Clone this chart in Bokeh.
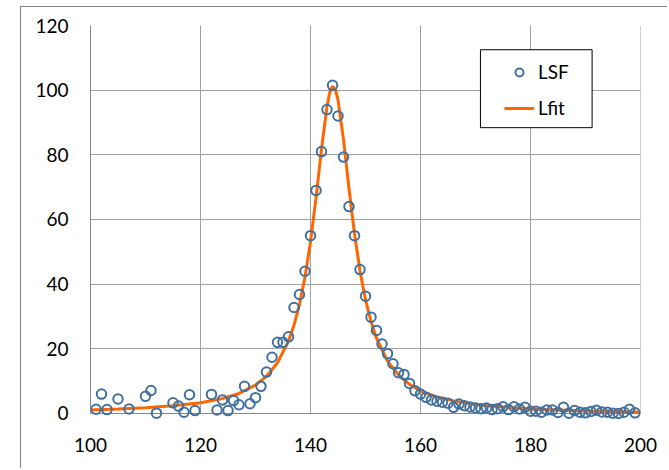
from bokeh.plotting import figure
from bokeh.models import (Range1d, Span, BoxAnnotation, Legend, LegendItem,
                          FixedTicker, InlineStyleSheet)
from bokeh.embed import file_html
from bokeh.resources import INLINE

# measured LSF points
lsf_x = [101, 102, 103, 105, 107, 110, 111, 112, 115, 116, 117, 118, 119,
         122, 123, 124, 125, 126, 127, 128, 129, 130, 131, 132, 133, 134,
         135, 136, 137, 138, 139, 140, 141, 142, 143, 144, 145, 146, 147,
         148, 149, 150, 151, 152, 153, 154, 155, 156, 157, 158, 159, 160,
         161, 162, 163, 164, 165, 166, 167, 168, 169, 170, 171, 172, 173,
         174, 175, 176, 177, 178, 179, 180, 181, 182, 183, 184, 185, 186,
         187, 188, 189, 190, 191, 192, 193, 194, 195, 196, 197, 198, 199]
lsf_y = [1.3, 6.0, 1.2, 4.5, 1.4, 5.3, 7.1, 0.1, 3.3, 2.3, 0.4, 5.8, 0.9,
         5.9, 1.1, 4.2, 0.9, 4.0, 2.7, 8.4, 3.0, 4.9, 8.4, 12.8, 17.4, 22.0,
         22.0, 23.7, 32.8, 36.8, 44.0, 55.0, 69.0, 81.0, 94.0, 101.5, 92.0, 79.3, 64.0,
         55.0, 44.5, 36.3, 29.8, 25.7, 21.5, 18.5, 15.4, 12.6, 12.1, 9.3, 7.0, 6.0,
         5.0, 4.2, 3.8, 3.5, 3.2, 1.9, 2.9, 2.4, 2.0, 1.7, 1.5, 1.7, 1.2,
         1.5, 2.1, 1.2, 2.1, 1.4, 1.9, 0.7, 0.7, 0.4, 1.1, 1.1, 0.3, 1.9,
         0.1, 0.9, 0.4, 0.2, 0.6, 1.0, 0.5, 0.4, 0.1, 0.0, 0.4, 1.3, 0.2]

# Lfit curve
fit_x = [100, 105, 110, 115, 120, 124, 127, 130, 132, 134, 136, 137, 138, 139,
         140, 141, 142, 143, 143.5, 144, 144.5, 145, 146, 147, 148, 149, 150,
         151, 152, 154, 156, 158, 160, 163, 166, 170, 175, 180, 185, 190, 195, 200]
fit_y = [1.1, 1.4, 1.8, 2.4, 3.3, 4.6, 6.2, 8.8, 11.5, 15.7, 22.4, 27.3, 33.7, 42.2,
         53.1, 66.6, 81.8, 95.0, 99.3, 101.2, 100.3, 97.0, 84.7, 69.6, 55.6, 44.1, 35.2,
         28.5, 23.3, 16.2, 11.9, 9.0, 7.0, 5.1, 3.9, 2.8, 2.0, 1.4, 1.1, 0.8, 0.6, 0.5]

x_ticks = [100, 120, 140, 160, 180, 200]
y_ticks = [0, 20, 40, 60, 80, 100, 120]

AXIS = "#868686"
GRID = "#a0a0a0"
FONT = "Lato"
W, H = 647, 462

border_css = InlineStyleSheet(css=":host { border-left: 1px solid #868686 !important;"
                                  " border-top: 1px solid #868686 !important; }")

p = figure(width=W, height=H, output_backend="svg", toolbar_location=None,
           x_range=Range1d(100, 200), y_range=Range1d(-1.856, 120),
           min_border_left=69, min_border_right=28, min_border_top=18,
           min_border_bottom=50, margin=(6, 0, 0, 20),
           styles={"border-left": "1px solid #868686",
                   "border-top": "1px solid #868686"},
           stylesheets=[border_css])
p.outline_line_color = None
p.background_fill_color = "white"
p.border_fill_color = "white"

for ax in (p.xaxis[0], p.yaxis[0]):
    ax.major_tick_line_color = None
    ax.minor_tick_line_color = None
    ax.major_tick_out = 0
    ax.major_label_text_font = FONT
    ax.major_label_text_font_size = "19px"
    ax.major_label_text_color = "black"

p.xaxis.ticker = FixedTicker(ticks=x_ticks)
p.xaxis.axis_line_color = None
p.xaxis.major_label_standoff = 18

p.yaxis.ticker = FixedTicker(ticks=y_ticks)
p.yaxis.axis_line_color = AXIS
p.yaxis.bounds = (y_ticks[0], y_ticks[-1])
p.yaxis.major_label_standoff = 22

p.xgrid.grid_line_color = None
p.ygrid.ticker = FixedTicker(ticks=y_ticks)
p.ygrid.grid_line_color = GRID

p.segment(x0=x_ticks[1:], y0=y_ticks[0], x1=x_ticks[1:], y1=y_ticks[-1],
          line_color=GRID, line_width=1, level="underlay")
p.add_layout(Span(location=0, dimension="width", line_color=AXIS,
                  line_width=1, level="underlay"))

r_fit = p.line(fit_x, fit_y, line_color="#ff6600", line_width=3)
r_lsf = p.scatter(lsf_x, lsf_y, marker="circle", size=9.5, fill_color=None,
                  line_color="#41719c", line_width=2)

box = BoxAnnotation(left=170.9, right=191.2, top=112.5, bottom=88.4,
                    fill_color="white", fill_alpha=1.0,
                    line_color="black", line_alpha=1.0, line_width=1)
p.add_layout(box)

legend = Legend(items=[LegendItem(label="LSF", renderers=[r_lsf]),
                       LegendItem(label="Lfit", renderers=[r_fit])],
                location=(414, 300), padding=10, spacing=13, margin=0,
                glyph_width=30, glyph_height=20, label_height=20,
                label_standoff=4, label_text_font=FONT,
                label_text_font_size="19px", label_text_color="black",
                border_line_color=None, background_fill_alpha=0)
p.add_layout(legend, "center")

open("out.html", "w").write(file_html(p, INLINE))
